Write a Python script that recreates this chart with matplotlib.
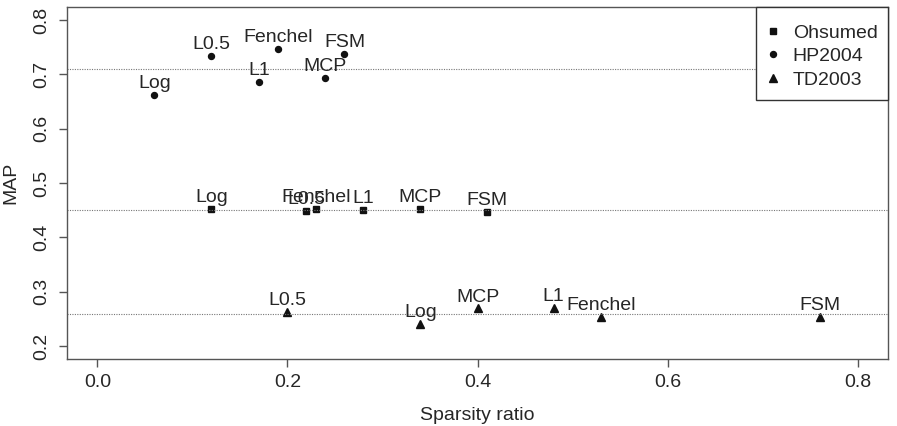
import numpy as np
import matplotlib
matplotlib.use('Agg')
import matplotlib.pyplot as plt
from matplotlib.patches import Rectangle

plt.rcParams['font.family'] = ['Liberation Sans', 'DejaVu Sans']

# Sparsity ratio (x) and MAP (y) for each data set
methods = ['Log', 'L0.5', 'Fenchel', 'L1', 'MCP', 'FSM']

ohsumed_x = [0.12, 0.22, 0.23, 0.28, 0.34, 0.41]
ohsumed_y = [0.452, 0.449, 0.453, 0.451, 0.453, 0.447]

hp2004_x = [0.06, 0.12, 0.19, 0.17, 0.24, 0.26]
hp2004_y = [0.662, 0.734, 0.747, 0.686, 0.693, 0.737]

td2003_x = [0.34, 0.20, 0.53, 0.48, 0.40, 0.76]
td2003_y = [0.241, 0.263, 0.254, 0.270, 0.269, 0.254]

x_ticks = [0.0, 0.2, 0.4, 0.6, 0.8]
y_ticks = [0.2, 0.3, 0.4, 0.5, 0.6, 0.7, 0.8]

W, H = 897, 426
fig = plt.figure(figsize=(W / 100, H / 100), dpi=100)
ax = fig.add_axes([67 / W, 1 - 359 / H, (888 - 67) / W, (359 - 7) / H])

txt = '#262626'
line_col = '#555555'

series = [
    ('Ohsumed', ohsumed_x, ohsumed_y, 's', 5),
    ('HP2004', hp2004_x, hp2004_y, 'o', 4.3),
    ('TD2003', td2003_x, td2003_y, '^', 5.5),
]

for name, xs, ys, mk, ms in series:
    ax.plot(xs, ys, linestyle='none', marker=mk, markersize=ms,
            color='#111111', label=name)
    # average MAP line
    ax.axhline(np.mean(ys), color='#777777', linestyle=(0, (1, 1.2)), lw=0.8)
    for m, x, y in zip(methods, xs, ys):
        ax.annotate(m, (x, y), xytext=(0, 5), textcoords='offset points',
                    ha='center', va='baseline', fontsize=14, color=txt)

ax.set_xlim(-0.032, 0.832)
ax.set_ylim(0.176, 0.824)
ax.set_xticks(x_ticks)
ax.set_xticklabels(['%.1f' % v for v in x_ticks])
ax.set_yticks(y_ticks)
ax.set_yticklabels(['%.1f' % v for v in y_ticks], rotation=90, va='center')

ax.tick_params(axis='both', length=6, width=1, color=line_col,
               labelsize=14, labelcolor=txt)
ax.tick_params(axis='x', pad=5)
ax.tick_params(axis='y', pad=6)
for s in ax.spines.values():
    s.set_color(line_col)
    s.set_linewidth(1)

ax.set_xlabel('Sparsity ratio', fontsize=14, color=txt, labelpad=11)
ax.set_ylabel('MAP', fontsize=14, color=txt)
ax.yaxis.set_label_coords(-0.058, 0.5)

# legend: frame drawn separately so the padding can differ per side
ax.add_patch(Rectangle((0.839, 0.736), 0.161, 0.264, transform=ax.transAxes,
                       facecolor='white', edgecolor='#333333', lw=1,
                       zorder=4, clip_on=False))
leg = ax.legend(loc='upper left', bbox_to_anchor=(0.851, 0.951),
                frameon=False, borderaxespad=0, borderpad=0, fontsize=14,
                handlelength=0.72, handletextpad=0.67, labelspacing=0.3,
                labelcolor=txt)
leg.set_zorder(5)

fig.savefig('out.png', dpi=100)
